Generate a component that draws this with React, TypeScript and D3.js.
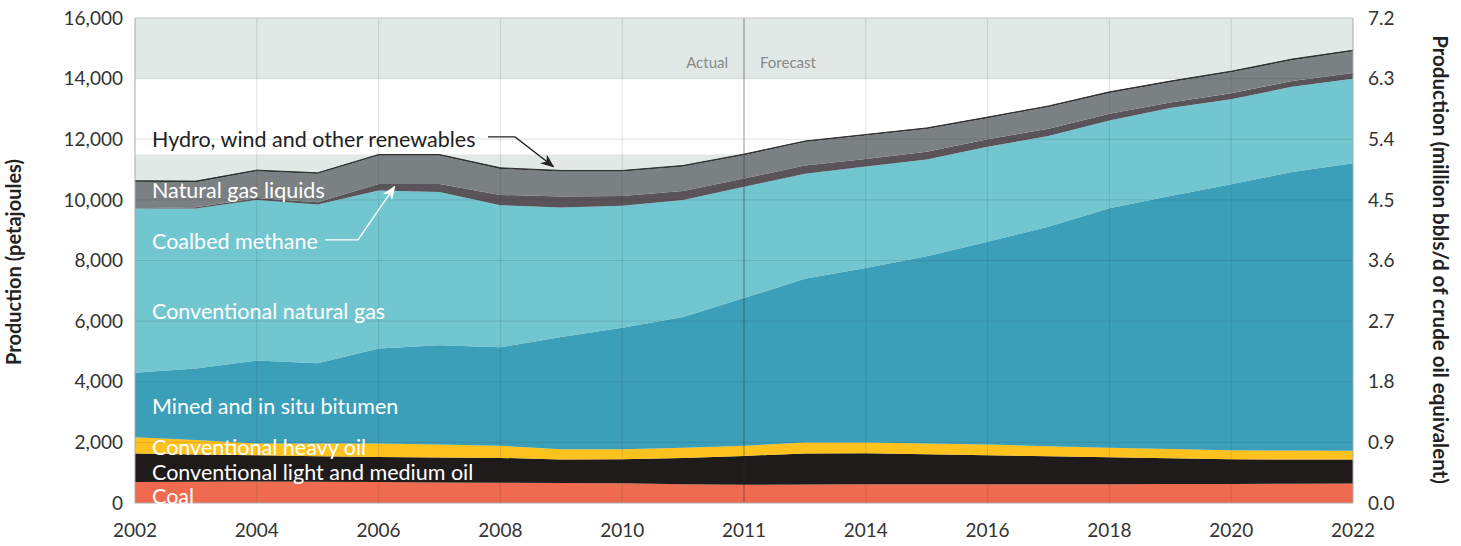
import * as d3 from 'd3'

const years = d3.range(2002, 2023)
const xTickYears = [2002, 2004, 2006, 2008, 2010, 2012, 2014, 2016, 2018, 2020, 2022]
const xTickLabels = ['2002', '2004', '2006', '2008', '2010', '2011', '2014', '2016', '2018', '2020', '2022']

const coal = [690, 700, 710, 700, 690, 680, 670, 660, 650, 620, 600, 610, 615, 620, 620, 620, 620, 625, 630, 635, 640]
const lightOil = [940, 900, 866, 845, 830, 820, 817, 775, 793, 867, 954, 1022, 1028, 990, 956, 925, 890, 850, 813, 800, 792]
const heavyOil = [540, 476, 389, 420, 445, 431, 400, 341, 333, 333, 333, 366, 355, 355, 355, 330, 310, 305, 300, 295, 288]
const bitumen = [2130, 2361, 2735, 2648, 3129, 3273, 3251, 3702, 4008, 4315, 4873, 5396, 5757, 6173, 6689, 7238, 7906, 8351, 8772, 9190, 9485]
const convGas = [5415, 5278, 5300, 5234, 5213, 5059, 4687, 4270, 4019, 3865, 3673, 3471, 3348, 3192, 3131, 2995, 2890, 2896, 2804, 2810, 2795]
const coalbed = [10, 45, 60, 73, 213, 257, 339, 362, 328, 296, 270, 270, 248, 259, 249, 238, 227, 184, 195, 194, 184]
const ngl = [869, 824, 885, 938, 940, 940, 858, 825, 804, 803, 771, 771, 771, 749, 695, 717, 685, 673, 695, 685, 716]
const hydro = [35, 35, 35, 35, 35, 35, 35, 35, 35, 35, 35, 35, 35, 35, 35, 35, 35, 35, 35, 35, 35]

const keys = ['coal', 'lightOil', 'heavyOil', 'bitumen', 'convGas', 'coalbed', 'ngl', 'hydro']
const colors: Record<string, string> = {
  coal: '#ef6b50',
  lightOil: '#1f1b1b',
  heavyOil: '#fec21f',
  bitumen: '#3b9fba',
  convGas: '#72c6d0',
  coalbed: '#5a5359',
  ngl: '#7b8183',
  hydro: '#2d2d2d'
}

const leftTicks = [0, 2000, 4000, 6000, 8000, 10000, 12000, 14000, 16000]
const rightTicks = [0, 0.9, 1.8, 2.7, 3.6, 4.5, 5.4, 6.3, 7.2]

const font = 'Lato, "Open Sans", sans-serif'

export default function App() {
  const width = 1461
  const height = 546
  const margin = { top: 18, right: 108, bottom: 43, left: 135 }
  const innerW = width - margin.left - margin.right
  const innerH = height - margin.top - margin.bottom

  const rows = years.map((yr, i) => ({
    year: yr,
    coal: coal[i],
    lightOil: lightOil[i],
    heavyOil: heavyOil[i],
    bitumen: bitumen[i],
    convGas: convGas[i],
    coalbed: coalbed[i],
    ngl: ngl[i],
    hydro: hydro[i]
  }))

  const x = d3.scaleLinear().domain([2002, 2022]).range([0, innerW])
  const y = d3.scaleLinear().domain([0, 16000]).range([innerH, 0])
  const yR = d3.scaleLinear().domain([0, 7.2]).range([innerH, 0])

  const series = d3.stack<any>().keys(keys)(rows)
  const area = d3.area<any>()
    .x(d => x(d.data.year))
    .y0(d => y(d[0]))
    .y1(d => y(d[1]))

  const topLine = d3.line<any>()
    .x(d => x(d.data.year))
    .y(d => y(d[1]))

  const labelX = x(2002) + 17
  const divider = x(2012)
  const lbl = 21.5

  return (
    <div style={{ position: 'absolute', left: 0, top: 0 }}>
      <svg width={width} height={height} style={{ display: 'block', fontFamily: font }}>
        <defs>
          <marker id="arrowBlack" viewBox="0 0 10 10" refX="9" refY="5" markerWidth="10" markerHeight="10" orient="auto">
            <path d="M0,1 L10,5 L0,9 L3,5 Z" fill="#222" />
          </marker>
          <marker id="arrowWhite" viewBox="0 0 10 10" refX="9" refY="5" markerWidth="10" markerHeight="10" orient="auto">
            <path d="M0,1 L10,5 L0,9 L3,5 Z" fill="#fff" />
          </marker>
        </defs>
        <g transform={`translate(${margin.left},${margin.top})`}>
          {/* background bands */}
          <rect x={0} y={y(16000)} width={innerW} height={y(14000) - y(16000)} fill="#e2e8e6" />
          <rect x={0} y={y(11500)} width={innerW} height={y(0) - y(11500)} fill="#e2e8e6" />

          {series.map(s => (
            <path key={s.key} d={area(s) as string} fill={colors[s.key]} />
          ))}
          <path d={topLine(series[series.length - 1]) as string} fill="none" stroke="#2d2d2d" strokeWidth={1} />

          {/* grid on top */}
          {leftTicks.slice(1, -1).map(t => (
            <line key={'h' + t} x1={0} x2={innerW} y1={y(t)} y2={y(t)} stroke="rgba(40,50,50,0.14)" />
          ))}
          {xTickYears.slice(1, -1).map(t => (
            <line key={'v' + t} x1={x(t)} x2={x(t)} y1={0} y2={innerH}
              stroke={t === 2012 ? 'rgba(40,40,40,0.5)' : 'rgba(40,50,50,0.14)'} />
          ))}

          {/* frame */}
          <line x1={0} x2={innerW} y1={0} y2={0} stroke="#c4c8c8" />
          <line x1={0} x2={0} y1={0} y2={innerH} stroke="#a8acac" />
          <line x1={innerW} x2={innerW} y1={0} y2={innerH} stroke="#a8acac" />
          <line x1={0} x2={innerW} y1={innerH} y2={innerH} stroke="#a8acac" />

          <text x={divider - 16} y={y(14500) + 5} textAnchor="end" fontSize={15} fill="#858a8a">Actual</text>
          <text x={divider + 16} y={y(14500) + 5} textAnchor="start" fontSize={15} fill="#858a8a">Forecast</text>

          {/* layer labels */}
          <text x={labelX} y={y(11850) + 3} fontSize={lbl} fill="#222">Hydro, wind and other renewables</text>
          <text x={labelX} y={y(10150) + 3} fontSize={lbl} fill="#fff">Natural gas liquids</text>
          <text x={labelX} y={y(8480) + 3} fontSize={lbl} fill="#fff">Coalbed methane</text>
          <text x={labelX} y={y(6170) + 3} fontSize={lbl} fill="#fff">Conventional natural gas</text>
          <text x={labelX} y={y(3020) + 3} fontSize={lbl} fill="#fff">Mined and in situ bitumen</text>
          <text x={labelX} y={y(1680) + 3} fontSize={lbl} fill="#fff">Conventional heavy oil</text>
          <text x={labelX} y={y(850) + 3} fontSize={lbl} fill="#fff">Conventional light and medium oil</text>
          <text x={labelX} y={y(70) + 3} fontSize={lbl} fill="#fff">Coal</text>

          {/* arrows */}
          <polyline points={`${x(2002) + 353},${y(12080)} ${x(2002) + 380},${y(12080)} ${x(2009) - 8},${y(11000) - 3}`}
            fill="none" stroke="#222" strokeWidth={1.4} markerEnd="url(#arrowBlack)" />
          <polyline points={`${x(2002) + 190},${y(8680)} ${x(2002) + 223},${y(8680)} ${x(2006) + 16},${y(10500) + 2}`}
            fill="none" stroke="#fff" strokeWidth={1.4} markerEnd="url(#arrowWhite)" />

          {/* left axis */}
          {leftTicks.map(t => (
            <text key={'l' + t} x={-12} y={y(t)} dy="0.35em" textAnchor="end" fontSize={19} fill="#333">
              {d3.format(',')(t)}
            </text>
          ))}
          {/* right axis */}
          {rightTicks.map(t => (
            <text key={'r' + t} x={innerW + 15} y={yR(t)} dy="0.35em" textAnchor="start" fontSize={19} fill="#333">
              {d3.format('.1f')(t)}
            </text>
          ))}
          {/* x axis */}
          {xTickYears.map((t, i) => (
            <text key={'x' + t} x={x(t)} y={innerH + 34} textAnchor="middle" fontSize={19} fill="#333">
              {xTickLabels[i]}
            </text>
          ))}

          <text transform={`translate(${-114},${innerH / 2 + 1.5}) rotate(-90)`} textAnchor="middle"
            fontSize={20} fontWeight="bold" fill="#222">Production (petajoules)</text>
          <text transform={`translate(${innerW + 80},${innerH / 2 - 1}) rotate(90)`} textAnchor="middle"
            fontSize={20.5} fontWeight="bold" fill="#222">Production (million bbls/d of crude oil equivalent)</text>
        </g>
      </svg>
    </div>
  )
}
